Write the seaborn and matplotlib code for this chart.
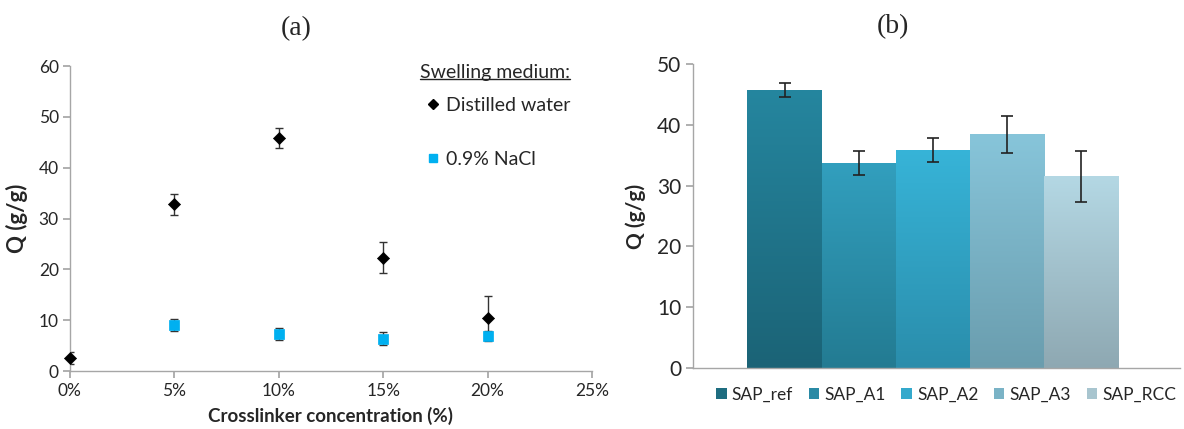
import numpy as np
import pandas as pd
import matplotlib
matplotlib.use("Agg")
import matplotlib.pyplot as plt
from matplotlib.lines import Line2D
from matplotlib.patches import Patch
from matplotlib.colors import LinearSegmentedColormap
import seaborn as sns

# ── data: panel (a) ──────────────────────────────────────────────────────────
conc = [0, 5, 10, 15, 20]
q_water = [2.5, 32.8, 45.8, 22.3, 10.5]
err_water = [1.2, 2.0, 2.0, 3.0, 4.2]
conc_nacl = [5, 10, 15, 20]
q_nacl = [9.0, 7.3, 6.4, 6.9]
err_nacl = [1.2, 1.2, 1.2, 1.0]
xticks_a = [0, 5, 10, 15, 20, 25]

# ── data: panel (b) ──────────────────────────────────────────────────────────
samples = ["SAP_ref", "SAP_A1", "SAP_A2", "SAP_A3", "SAP_RCC"]
q_samples = [45.7, 33.7, 35.9, 38.4, 31.5]
err_samples = [1.2, 2.0, 2.0, 3.0, 4.2]
col_top = ["#25869f", "#329fbe", "#37b4d8", "#87c5da", "#b4d8e4"]
col_bot = ["#1b6376", "#237b92", "#2a8dab", "#6a9dae", "#8ea8b2"]
col_leg = ["#1e6d80", "#2a8aa5", "#34a9cc", "#7ab3c6", "#a8c5cf"]

sns.set_theme(style="white")
plt.rcParams["font.family"] = ["Lato", "DejaVu Sans"]
spine_c = "#a6a6a6"

fig = plt.figure(figsize=(11.84, 4.29), dpi=100)
ax1 = fig.add_axes([0.059, 0.135, 0.441, 0.711])
ax2 = fig.add_axes([0.585, 0.142, 0.412, 0.709])

# ── (a) ──────────────────────────────────────────────────────────────────────
df_w = pd.DataFrame({"c": conc, "q": q_water})
df_n = pd.DataFrame({"c": conc_nacl, "q": q_nacl})
ax1.errorbar(conc, q_water, yerr=err_water, fmt="none", ecolor="#333333",
             elinewidth=1, capsize=3, capthick=1, zorder=2)
ax1.errorbar(conc_nacl, q_nacl, yerr=err_nacl, fmt="none", ecolor="#333333",
             elinewidth=1, capsize=3, capthick=1, zorder=2)
sns.scatterplot(data=df_w, x="c", y="q", marker="D", s=38, color="black",
                edgecolor="black", ax=ax1, zorder=3, clip_on=False)
sns.scatterplot(data=df_n, x="c", y="q", marker="s", s=42, color="#00b0f0",
                edgecolor="#00b0f0", ax=ax1, zorder=3, clip_on=False)
ax1.set_xlim(0, 25)
ax1.set_ylim(0, 60)
ax1.set_xticks(xticks_a)
ax1.set_xticklabels([f"{t}%" for t in xticks_a])
ax1.set_yticks(range(0, 61, 10))
ax1.set_xlabel("Crosslinker concentration (%)", fontsize=13.5,
               fontweight="bold", labelpad=6)
ax1.set_ylabel("Q (g/g)", fontsize=16, fontweight="bold", labelpad=8)
ax1.set_title("(a)", fontsize=20, family="Liberation Serif", pad=22, x=0.433)

leg_title = ax1.text(0.958, 0.98, "Swelling medium:", transform=ax1.transAxes,
                     ha="right", va="center", fontsize=14)
handles = [Line2D([], [], marker="D", ls="none", color="black", markersize=5.5),
           Line2D([], [], marker="s", ls="none", color="#00b0f0", markersize=6)]
ax1.legend(handles, ["Distilled water", "0.9% NaCl"], frameon=False,
           fontsize=14, loc="upper right", bbox_to_anchor=(0.958, 0.898),
           labelspacing=1.9, handletextpad=0.15, handlelength=1.0,
           borderaxespad=0, borderpad=0)

# ── (b) ──────────────────────────────────────────────────────────────────────
df_b = pd.DataFrame({"sample": samples, "q": q_samples})
sns.barplot(data=df_b, x="sample", y="q", hue="sample", palette=col_leg,
            width=1.0, ax=ax2, legend=False, saturation=1)
for i, p in enumerate(ax2.patches):
    x0, y0 = p.get_x(), p.get_y()
    w, h = p.get_width(), p.get_height()
    cmap = LinearSegmentedColormap.from_list(f"g{i}", [col_bot[i], col_top[i]])
    grad = np.linspace(0, 1, 256).reshape(-1, 1)
    im = ax2.imshow(grad, extent=[x0, x0 + w, y0, y0 + h], origin="lower",
                    aspect="auto", cmap=cmap, zorder=1)
    im.set_clip_path(p)
    p.set_edgecolor("none")
ax2.errorbar(range(len(samples)), q_samples, yerr=err_samples, fmt="none",
             ecolor="#222222", elinewidth=1.2, capsize=4, capthick=1.2, zorder=3)
ax2.set_xlim(-1.24, 5.34)
ax2.set_ylim(0, 50)
ax2.set_yticks(range(0, 51, 10))
ax2.set_xticks([])
ax2.set_xlabel("")
ax2.set_ylabel("Q (g/g)", fontsize=15, fontweight="bold", labelpad=8)
ax2.set_title("(b)", fontsize=20, family="Liberation Serif", pad=22, x=0.41)
leg_h = [Patch(facecolor=c, edgecolor="none") for c in col_leg]
ax2.legend(leg_h, samples, ncol=5, frameon=False, fontsize=12.5,
           loc="upper center", bbox_to_anchor=(0.52, -0.045),
           handlelength=0.6, handleheight=0.6, handletextpad=0.3,
           columnspacing=0.9, borderaxespad=0, borderpad=0.3)

for ax, fs in [(ax1, 12.5), (ax2, 15)]:
    for s in ["top", "right"]:
        ax.spines[s].set_visible(False)
    for s in ["left", "bottom"]:
        ax.spines[s].set_color(spine_c)
        ax.spines[s].set_linewidth(1)
    ax.tick_params(axis="y", left=True, length=5, color=spine_c, labelsize=fs,
                   pad=3)
    ax.grid(False)
ax1.tick_params(axis="x", bottom=True, length=5, color=spine_c, labelsize=12.5)

# underline legend title
fig.canvas.draw()
bb = leg_title.get_window_extent().transformed(fig.transFigure.inverted())
fig.add_artist(Line2D([bb.x0, bb.x1], [bb.y0 + 0.004, bb.y0 + 0.004],
                      color="#222222", lw=1, transform=fig.transFigure))

fig.savefig("out.png", dpi=100)
